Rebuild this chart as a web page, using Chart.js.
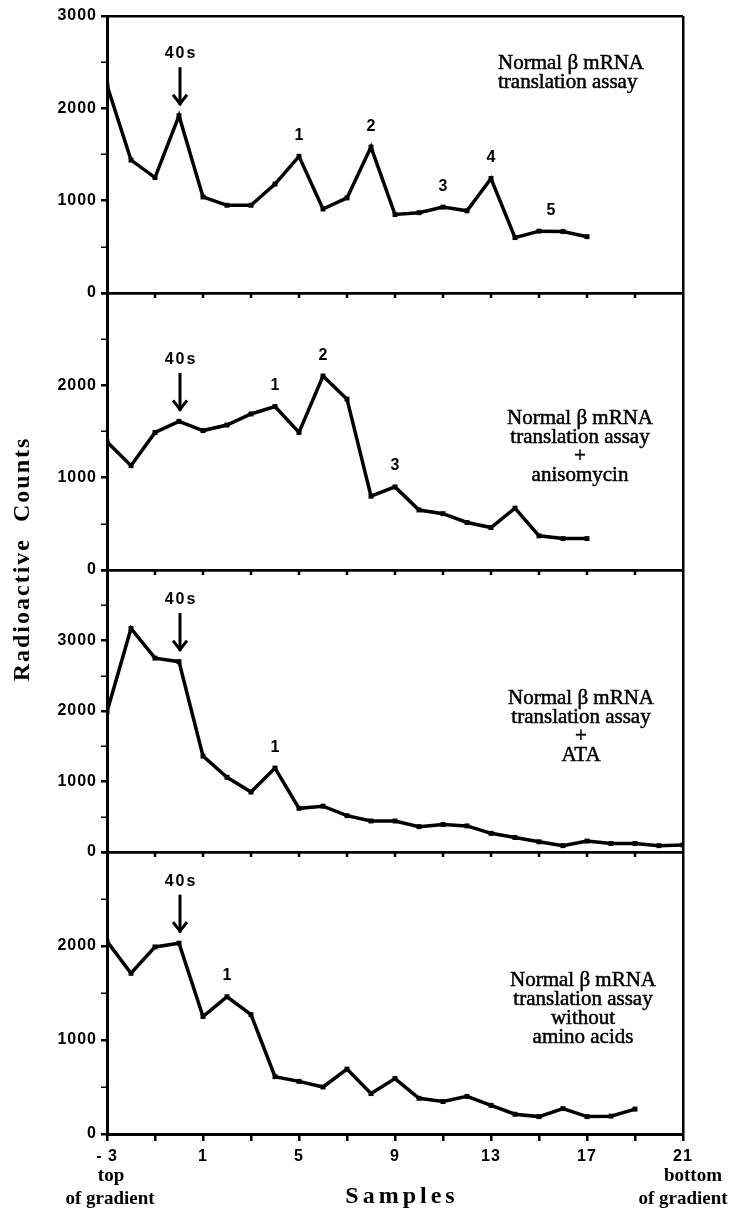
<!DOCTYPE html>
<html>
<head>
<meta charset="utf-8">
<script src="https://cdn.jsdelivr.net/npm/chart.js@4.4.1/dist/chart.umd.min.js"></script>
<style>
  html, body { margin: 0; padding: 0; background: #fff; }
  #wrap { width: 731px; height: 1214px; }
</style>
</head>
<body>
<div id="wrap"><canvas id="gradientChart" width="731" height="1214"></canvas></div>
<script>
// Sample numbers along the gradient (top = -3, bottom = 21)
const samplesTo17 = [-3, -2, -1, 0, 1, 2, 3, 4, 5, 6, 7, 8, 9, 10, 11, 12, 13, 14, 15, 16, 17];
const samplesTo19 = [-3, -2, -1, 0, 1, 2, 3, 4, 5, 6, 7, 8, 9, 10, 11, 12, 13, 14, 15, 16, 17, 18, 19];
const samplesTo21 = [-3, -2, -1, 0, 1, 2, 3, 4, 5, 6, 7, 8, 9, 10, 11, 12, 13, 14, 15, 16, 17, 18, 19, 20, 21];

// Radioactive counts per fraction
const countsNormal = [2250, 1440, 1250, 1920, 1040, 950, 950, 1180, 1480, 910, 1030, 1580, 850, 870, 930, 890, 1240, 600, 670, 665, 610];
const countsAniso  = [1390, 1130, 1490, 1610, 1510, 1570, 1690, 1770, 1490, 2100, 1850, 800, 900, 650, 610, 515, 460, 670, 370, 340, 340];
const countsATA    = [1990, 3170, 2750, 2700, 1360, 1060, 850, 1190, 620, 650, 515, 440, 440, 360, 390, 370, 265, 205, 145, 90, 155, 120, 120, 90, 100];
const countsNoAA   = [2050, 1710, 1990, 2030, 1250, 1460, 1270, 610, 560, 500, 690, 430, 590, 380, 345, 400, 305, 210, 185, 270, 185, 190, 265];

// Axis ticks
const xTickValues = [-3, -1, 1, 3, 5, 7, 9, 11, 13, 15, 17, 19, 21];
const xLabelValues = [-3, 1, 5, 9, 13, 17, 21];
const xLabelTexts = ['- 3', '1', '5', '9', '13', '17', '21'];
const yMaxima = [3000, 3000, 4000, 3000];

// Panel captions
const captionNormal = ['Normal \u03b2 mRNA', 'translation assay'];
const captionAniso = ['Normal \u03b2 mRNA', 'translation assay', '+', 'anisomycin'];
const captionATA = ['Normal \u03b2 mRNA', 'translation assay', '+', 'ATA'];
const captionNoAA = ['Normal \u03b2 mRNA', 'translation assay', 'without', 'amino acids'];

// Polysome peak numbers: [sample, label]
const peaksNormal = [[5, '1'], [8, '2'], [11, '3'], [13, '4'], [15.5, '5']];
const peaksAniso = [[4, '1'], [6, '2'], [9, '3']];
const peaksATA = [[4, '1']];
const peaksNoAA = [[2, '1']];
const marker40s = 0;

const SANS = "'Liberation Sans', Arial, sans-serif";
const SERIF = "'Liberation Serif', 'Times New Roman', serif";

const panels = [
  { id: 'yA', x: samplesTo17, y: countsNormal, max: yMaxima[0], weight: 277, caption: captionNormal, peaks: peaksNormal,
    capAlign: 'left', capX: 498, capY: 47 },
  { id: 'yB', x: samplesTo17, y: countsAniso, max: yMaxima[1], weight: 277, caption: captionAniso, peaks: peaksAniso,
    capAlign: 'center', capX: 580, capY: 125 },
  { id: 'yC', x: samplesTo21, y: countsATA, max: yMaxima[2], weight: 282, caption: captionATA, peaks: peaksATA,
    capAlign: 'center', capX: 581, capY: 128 },
  { id: 'yD', x: samplesTo19, y: countsNoAA, max: yMaxima[3], weight: 282, caption: captionNoAA, peaks: peaksNoAA,
    capAlign: 'center', capX: 583, capY: 128 }
];

function valueAt(p, sx) {
  const i = p.x.indexOf(sx);
  if (i >= 0) return p.y[i];
  const lo = p.x.indexOf(Math.floor(sx));
  return (p.y[lo] + p.y[lo + 1]) / 2;
}

function yScale(p, isTop) {
  return {
    type: 'linear',
    position: 'left',
    stack: 'panels',
    stackWeight: p.weight,
    min: 0,
    max: p.max,
    border: { display: true, color: '#000', width: 3 },
    grid: {
      drawOnChartArea: true,
      color: ctx => (ctx.tick.value === 0 || ctx.tick.value === p.max) ? '#000' : 'rgba(0,0,0,0)',
      lineWidth: 2.5,
      tickLength: 6,
      tickColor: '#000',
      tickWidth: ctx => ctx.tick.value % 1000 === 0 ? 2.5 : 1.5
    },
    ticks: {
      stepSize: 500,
      autoSkip: false,
      color: '#000',
      padding: 4,
      font: { family: SANS, size: 16, weight: 'bold' },
      callback: v => {
        if (v % 1000 !== 0) return '';
        if (v === p.max && !isTop) return '';
        return String(v);
      }
    },
    afterFit: s => { s.width = 107; }
  };
}

// bottom panel first: stacked left axes are laid out bottom-up
const scales = {
  x: {
    type: 'linear',
    min: -3,
    max: 21,
    border: { display: true, color: '#000', width: 3 },
    grid: {
      drawOnChartArea: true,
      color: ctx => (ctx.tick.value === -3 || ctx.tick.value === 21) ? '#000' : 'rgba(0,0,0,0)',
      lineWidth: 2.5,
      tickLength: 7,
      tickColor: '#000',
      tickWidth: 2.5
    },
    ticks: {
      autoSkip: false,
      maxRotation: 0,
      color: '#000',
      padding: 6,
      font: { family: SANS, size: 16, weight: 'bold' },
      callback: v => {
        const i = xLabelValues.indexOf(v);
        return i >= 0 ? xLabelTexts[i] : '';
      }
    },
    afterBuildTicks: s => { s.ticks = xTickValues.map(v => ({ value: v })); },
    afterFit: s => { s.height = 80; }
  }
};
for (let i = panels.length - 1; i >= 0; i--) {
  scales[panels[i].id] = yScale(panels[i], i === 0);
}

const datasets = panels.map(p => ({
  data: p.x.map((v, i) => ({ x: v, y: p.y[i] })),
  yAxisID: p.id,
  borderColor: '#000',
  borderWidth: 3.5,
  backgroundColor: '#000',
  pointStyle: 'rect',
  pointRadius: 3.5,
  pointBackgroundColor: '#000',
  pointBorderWidth: 0,
  tension: 0,
  fill: false
}));

function spacedText(ctx, text, x, y, spacing) {
  ctx.letterSpacing = spacing + 'px';
  // drop the trailing gap so the text stays centred
  ctx.fillText(text, x + (ctx.textAlign === 'center' ? spacing / 2 : 0), y);
  ctx.letterSpacing = '0px';
}

// heavier serif text, like the printed captions
function inkText(ctx, text, x, y) {
  ctx.fillText(text, x, y);
  ctx.strokeText(text, x, y);
}

const panelMarks = {
  id: 'panelMarks',
  beforeDraw(chart) {
    chart.ctx.letterSpacing = '1px';
  },
  beforeDatasetsDraw(chart) {
    chart.ctx.letterSpacing = '0px';
  },
  afterDraw(chart) {
    const ctx = chart.ctx;
    const xs = chart.scales.x;
    ctx.save();
    ctx.fillStyle = '#000';
    ctx.strokeStyle = '#000';
    ctx.textBaseline = 'middle';

    // short inward ticks along the shared panel borders
    ctx.lineWidth = 2.5;
    panels.forEach((p, k) => {
      if (k === 0) return;
      const top = chart.scales[p.id].top;
      xTickValues.slice(1, -1).forEach(v => {
        const px = xs.getPixelForValue(v);
        ctx.beginPath();
        ctx.moveTo(px, top);
        ctx.lineTo(px, top + 5);
        ctx.stroke();
      });
    });

    panels.forEach(p => {
      const ys = chart.scales[p.id];

      // 40s arrow
      const ax = xs.getPixelForValue(marker40s) + 1;
      const tip = ys.getPixelForValue(valueAt(p, marker40s)) - 12;
      ctx.lineWidth = 3;
      ctx.lineCap = 'square';
      ctx.beginPath();
      ctx.moveTo(ax, tip - 35);
      ctx.lineTo(ax, tip);
      ctx.stroke();
      ctx.lineCap = 'butt';
      ctx.beginPath();
      ctx.moveTo(ax - 7, tip - 9);
      ctx.lineTo(ax, tip);
      ctx.lineTo(ax + 7, tip - 9);
      ctx.stroke();
      ctx.font = 'bold 16px ' + SANS;
      ctx.textAlign = 'center';
      spacedText(ctx, '40s', ax, tip - 50, 2);

      // peak numbers
      p.peaks.forEach(([sx, label]) => {
        const px = xs.getPixelForValue(sx);
        const py = ys.getPixelForValue(valueAt(p, sx)) - 21;
        spacedText(ctx, label, px, py, 0);
      });

      // caption
      ctx.font = '21px ' + SERIF;
      ctx.lineWidth = 0.5;
      ctx.textAlign = p.capAlign;
      p.caption.forEach((line, i) => {
        inkText(ctx, line, p.capX, ys.top + p.capY + i * 19);
      });
    });

    // axis titles and gradient ends
    ctx.textAlign = 'center';
    ctx.font = 'bold 24px ' + SERIF;
    spacedText(ctx, 'Samples', 400, 1197, 4);
    ctx.save();
    ctx.translate(23, 560);
    ctx.rotate(-Math.PI / 2);
    spacedText(ctx, 'Radioactive  Counts', 0, 0, 2);
    ctx.restore();

    ctx.font = 'bold 19px ' + SERIF;
    ctx.fillText('top', 111, 1176);
    ctx.fillText('of gradient', 110, 1199);
    ctx.fillText('bottom', 693, 1176);
    ctx.fillText('of gradient', 683, 1199);
    ctx.restore();
  }
};

new Chart(document.getElementById('gradientChart'), {
  type: 'line',
  data: { datasets: datasets },
  options: {
    responsive: false,
    animation: false,
    devicePixelRatio: 1,
    layout: { padding: { left: 0, right: 48, top: 16, bottom: 0 } },
    plugins: { legend: { display: false }, tooltip: { enabled: false } },
    scales: scales
  },
  plugins: [panelMarks]
});
</script>
</body>
</html>
